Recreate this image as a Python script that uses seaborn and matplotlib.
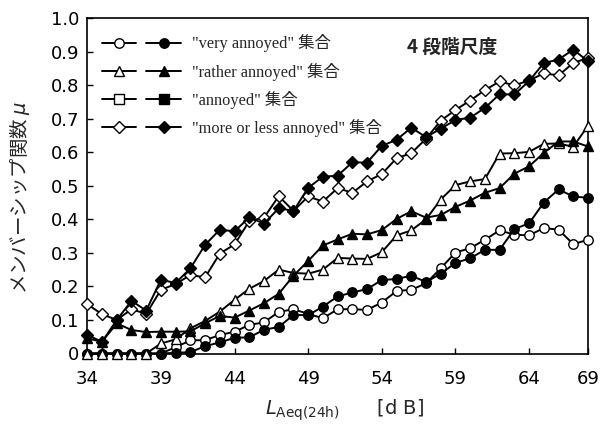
import matplotlib
matplotlib.use("Agg")
import matplotlib.pyplot as plt
from matplotlib.lines import Line2D
from matplotlib.legend_handler import HandlerTuple
import seaborn as sns
import pandas as pd

# Noise level L_Aeq(24h) [dB]
laeq = list(range(34, 69))

# Membership functions (open = first estimate, filled = second estimate)
very_open = [0, 0, 0, 0, 0, 0, 0.019, 0.039, 0.040, 0.055, 0.065, 0.085, 0.093, 0.124,
             0.132, 0.118, 0.105, 0.132, 0.132, 0.130, 0.152, 0.186, 0.190, 0.209, 0.254,
             0.301, 0.314, 0.339, 0.367, 0.354, 0.352, 0.374, 0.369, 0.326, 0.339]
very_filled = [0, 0, 0, 0, 0, 0, 0.002, 0.004, 0.022, 0.033, 0.047, 0.048, 0.071, 0.079,
               0.115, 0.114, 0.140, 0.170, 0.182, 0.192, 0.219, 0.222, 0.232, 0.213, 0.238,
               0.270, 0.284, 0.309, 0.309, 0.371, 0.388, 0.450, 0.489, 0.468, 0.464]
rather_open = [0, 0, 0, 0, 0, 0.030, 0.042, 0.075, 0.097, 0.125, 0.160, 0.193, 0.216, 0.250,
               0.240, 0.238, 0.250, 0.285, 0.283, 0.282, 0.302, 0.352, 0.367, 0.400, 0.459,
               0.502, 0.513, 0.520, 0.596, 0.597, 0.601, 0.625, 0.626, 0.616, 0.679]
rather_filled = [0.045, 0.035, 0.090, 0.070, 0.064, 0.065, 0.065, 0.066, 0.090, 0.112, 0.107,
                 0.128, 0.150, 0.178, 0.232, 0.276, 0.322, 0.340, 0.357, 0.355, 0.368, 0.401,
                 0.424, 0.405, 0.413, 0.437, 0.456, 0.479, 0.493, 0.536, 0.558, 0.598, 0.632,
                 0.632, 0.617]
moreless_open = [0.147, 0.117, 0.100, 0.132, 0.118, 0.190, 0.207, 0.234, 0.227, 0.298, 0.325,
                 0.395, 0.405, 0.469, 0.425, 0.468, 0.453, 0.493, 0.479, 0.513, 0.535, 0.582,
                 0.597, 0.640, 0.694, 0.726, 0.754, 0.785, 0.811, 0.799, 0.814, 0.835, 0.829,
                 0.866, 0.881]
moreless_filled = [0.055, 0.035, 0.100, 0.157, 0.128, 0.220, 0.210, 0.254, 0.324, 0.369, 0.364,
                   0.406, 0.387, 0.433, 0.425, 0.494, 0.527, 0.530, 0.570, 0.569, 0.619, 0.637,
                   0.673, 0.645, 0.670, 0.696, 0.703, 0.732, 0.773, 0.772, 0.812, 0.866, 0.876,
                   0.906, 0.871]

legend_labels = ['"very annoyed" 集合', '"rather annoyed" 集合', '"annoyed" 集合',
                 '"more or less annoyed" 集合']
xtick_values = [34, 39, 44, 49, 54, 59, 64, 68]
xtick_labels = ["34", "39", "44", "49", "54", "59", "64", "69"]
ytick_values = [0, 0.1, 0.2, 0.3, 0.4, 0.5, 0.6, 0.7, 0.8, 0.9, 1.0]
ytick_labels = ["0", "0.1", "0.2", "0.3", "0.4", "0.5", "0.6", "0.7", "0.8", "0.9", "1.0"]

sns.set_theme(style="ticks")
plt.rcParams["font.family"] = ["DejaVu Sans", "Noto Sans CJK JP"]
plt.rcParams["mathtext.fontset"] = "dejavusans"

fig = plt.figure(figsize=(6.06, 4.26), dpi=100)
ax = fig.add_axes([87.3 / 606, (426 - 353.5) / 426, (588 - 87.3) / 606, (353.5 - 18) / 426])

series = [
    (very_open, "o", "white"), (very_filled, "o", "black"),
    (rather_open, "^", "white"), (rather_filled, "^", "black"),
    (moreless_open, "D", "white"), (moreless_filled, "D", "black"),
]
for values, mk, face in series:
    df = pd.DataFrame({"x": laeq, "y": values})
    ms = 5.8 if mk == "D" else 6.8
    sns.lineplot(data=df, x="x", y="y", ax=ax, color="black", lw=1.4,
                 marker=mk, markersize=ms, markerfacecolor=face,
                 markeredgecolor="black", markeredgewidth=1.0,
                 legend=False, clip_on=False, zorder=3)

ax.set_xlim(34, 68)
ax.set_ylim(0, 1.0)
ax.set_xticks(xtick_values)
ax.set_xticklabels(xtick_labels)
ax.set_yticks(ytick_values)
ax.set_yticklabels(ytick_labels)
ax.tick_params(axis="both", direction="in", length=4, width=1, colors="black",
               labelsize=13)
ax.tick_params(axis="x", pad=12)
ax.tick_params(axis="y", pad=6)
for s in ax.spines.values():
    s.set_visible(True)
    s.set_color("black")
    s.set_linewidth(1.2)
ax.set_xlabel("")
ax.set_ylabel("")

# axis titles
fig.text(20 / 606, 1 - 198 / 426, "メンバーシップ関数 $\\mu$", rotation=90,
         ha="center", va="center", fontsize=14, family=["Noto Sans CJK JP", "DejaVu Sans"])
fig.text(345 / 606, 1 - 410 / 426, r"$L_{\mathregular{Aeq(24h)}}$      [d B]",
         ha="center", va="center", fontsize=14)

ax.text(55.7, 0.912, "4 段階尺度", fontsize=13.5, fontweight="bold", va="center",
        family=["Noto Sans CJK JP", "DejaVu Sans"])

# legend with paired open/filled handles
markers = ["o", "^", "s", "D"]
handles = []
for mk in markers:
    ms = 5.8 if mk == "D" else 6.8
    h_open = Line2D([], [], color="black", lw=1.4, marker=mk, markersize=ms,
                    markerfacecolor="white", markeredgecolor="black")
    h_fill = Line2D([], [], color="black", lw=1.4, marker=mk, markersize=ms,
                    markerfacecolor="black", markeredgecolor="black")
    handles.append((h_open, h_fill))
leg = ax.legend(handles, legend_labels, handler_map={tuple: HandlerTuple(ndivide=None, pad=0.6)},
                loc="upper left", bbox_to_anchor=(0.0, 0.995), frameon=False,
                handlelength=4.8, handletextpad=0.7, labelspacing=0.62,
                prop={"family": ["Liberation Serif", "Noto Sans CJK JP"], "size": 11.8})

fig.savefig("out.png", dpi=100, facecolor="white")
